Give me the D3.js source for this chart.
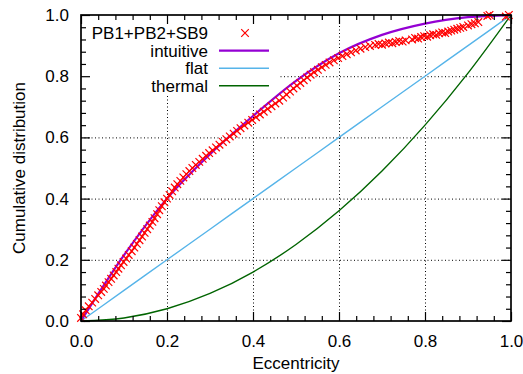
<!DOCTYPE html>
<html>
<head>
<meta charset="utf-8">
<script src="https://cdn.jsdelivr.net/npm/d3@7"></script>
<style>
  html, body { margin: 0; padding: 0; background: #fff; }
  svg text { font-family: "Liberation Sans", Arial, Helvetica, sans-serif; fill: #000; }
</style>
</head>
<body>
<div id="chart"></div>
<script>
// tick values / labels
const xTicks = [0, 0.2, 0.4, 0.6, 0.8, 1.0];
const yTicks = [0, 0.2, 0.4, 0.6, 0.8, 1.0];
const gridTicks = [0.2, 0.4, 0.6, 0.8];
const minorTicks = [0.04,0.08,0.12,0.16,0.24,0.28,0.32,0.36,0.44,0.48,0.52,0.56,0.64,0.68,0.72,0.76,0.84,0.88,0.92,0.96];

// model curves
const curveEcc      = [0, 0.1, 0.2, 0.3, 0.4, 0.5, 0.6, 0.7, 0.8, 0.9, 1.0];
const intuitiveCdf  = [0, 0.215, 0.40, 0.545, 0.67, 0.785, 0.875, 0.935, 0.972, 0.993, 1.0];
const flatCdf       = [0, 0.1, 0.2, 0.3, 0.4, 0.5, 0.6, 0.7, 0.8, 0.9, 1.0];
const thermalCdf    = [0, 0.01, 0.04, 0.09, 0.16, 0.25, 0.36, 0.49, 0.64, 0.81, 1.0];

// observed systems PB1+PB2+SB9 (eccentricity, cumulative fraction)
const obsEcc = [
  0.000,0.005,0.011,0.018,0.026,0.033,0.040,0.047,0.053,0.058,0.064,0.070,0.076,0.082,0.087,0.093,0.099,
  0.105,0.111,0.118,0.124,0.130,0.136,0.142,0.148,0.154,0.160,0.166,0.171,0.177,0.182,0.188,0.194,0.200,
  0.206,0.212,0.218,0.224,0.231,0.238,0.245,0.252,0.259,0.267,0.275,0.283,0.291,0.298,0.306,0.314,0.322,
  0.330,0.338,0.346,0.355,0.363,0.371,0.380,0.389,0.398,0.407,0.416,0.425,0.434,0.443,0.452,0.461,0.470,
  0.478,0.486,0.494,0.502,0.510,0.518,0.526,0.534,0.542,0.551,0.560,0.569,0.578,0.588,0.598,0.608,0.618,
  0.628,0.639,0.650,0.661,0.672,
  0.684,0.692,0.700,0.708,0.716,0.724,0.732,0.740,0.748,0.755,
  0.770,0.777,0.784,0.791,0.798,0.805,0.812,0.819,0.826,0.833,0.840,0.847,0.854,0.861,0.868,0.875,0.882,0.889,
  0.900,0.908,0.916,0.924,0.945,0.950,0.988,0.995
];
const obsCum = [
  0.010,0.022,0.035,0.048,0.060,0.072,0.084,0.095,0.105,0.116,0.127,0.138,0.149,0.160,0.171,0.182,0.193,
  0.204,0.216,0.228,0.240,0.252,0.264,0.276,0.288,0.300,0.312,0.324,0.336,0.349,0.362,0.375,0.388,0.400,
  0.412,0.424,0.436,0.447,0.458,0.469,0.480,0.490,0.500,0.510,0.520,0.530,0.540,0.549,0.558,0.567,0.576,
  0.585,0.594,0.603,0.612,0.621,0.630,0.639,0.648,0.657,0.666,0.675,0.684,0.693,0.702,0.711,0.720,0.730,
  0.740,0.750,0.760,0.769,0.778,0.787,0.796,0.805,0.813,0.821,0.829,0.837,0.845,0.852,0.859,0.866,0.872,
  0.878,0.884,0.890,0.895,0.899,
  0.902,0.905,0.903,0.907,0.910,0.908,0.912,0.915,0.913,0.917,
  0.920,0.925,0.923,0.928,0.931,0.929,0.934,0.937,0.935,0.940,0.943,0.941,0.946,0.949,0.952,0.955,0.958,0.961,
  0.966,0.970,0.973,0.977,0.997,1.000,0.995,1.000
];

const legendLabels = ["PB1+PB2+SB9", "intuitive", "flat", "thermal"];

const containerWidth = 523, containerHeight = 374;
const margin = {left: 81, right: 12, top: 15, bottom: 53};
const width = containerWidth - margin.left - margin.right,
      height = containerHeight - margin.top - margin.bottom;

const svg = d3.select("#chart").append("svg")
    .attr("width", containerWidth)
    .attr("height", containerHeight);
const g = svg.append("g")
    .attr("transform", "translate(" + margin.left + "," + margin.top + ")");

// scales
const x = d3.scaleLinear().domain([0, 1]).range([0, width]);
const y = d3.scaleLinear().domain([0, 1]).range([height, 0]);

// grid
g.append("g").attr("class", "grid")
   .attr("transform", "translate(0," + height + ")")
   .call(d3.axisBottom(x).tickValues(gridTicks).tickSize(-height).tickFormat(""));
g.append("g").attr("class", "grid")
   .call(d3.axisLeft(y).tickValues(gridTicks).tickSize(-width).tickFormat(""));
g.selectAll(".grid .domain").remove();
g.selectAll(".grid line")
   .attr("stroke", "#000").attr("stroke-width", 1).attr("stroke-dasharray", "1,2.5");

// key background hides grid behind it
g.append("rect")
   .attr("x", 0).attr("y", 0)
   .attr("width", 199).attr("height", 80)
   .attr("fill", "#fff");

// model lines
const line = d3.line()
   .x((d) => x(d[0]))
   .y((d) => y(d[1]))
   .curve(d3.curveMonotoneX);

const models = [
  {vals: thermalCdf, color: "#006400", w: 1.4},
  {vals: flatCdf, color: "#56b4e9", w: 1.4},
  {vals: intuitiveCdf, color: "#9400d3", w: 2.2}
];
models.forEach((m) => {
  g.append("path")
     .datum(curveEcc.map((e, i) => [e, m.vals[i]]))
     .attr("fill", "none")
     .attr("stroke", m.color)
     .attr("stroke-width", m.w)
     .attr("d", line);
});

// observed crosses
const cross = "M-3.8,-3.8L3.8,3.8M-3.8,3.8L3.8,-3.8";
g.selectAll(".obs")
   .data(obsEcc.map((e, i) => [e, obsCum[i]]))
   .enter().append("path")
   .attr("class", "obs")
   .attr("transform", (d) => "translate(" + x(d[0]) + "," + y(d[1]) + ")")
   .attr("d", cross)
   .attr("stroke", "#ff0000")
   .attr("stroke-width", 1.2)
   .attr("fill", "none");

// axes: major + minor ticks on all four sides, pointing inward
function styleAxis(sel) {
  sel.select(".domain").remove();
  sel.selectAll("line").attr("stroke", "#000").attr("stroke-width", 1.2);
  sel.selectAll("text").style("font-size", "17px");
}
const xb = g.append("g").attr("transform", "translate(0," + height + ")")
   .call(d3.axisBottom(x).tickValues(xTicks).tickSize(-9).tickPadding(14).tickFormat(d3.format(".1f")));
styleAxis(xb);
const xbm = g.append("g").attr("transform", "translate(0," + height + ")")
   .call(d3.axisBottom(x).tickValues(minorTicks).tickSize(-5).tickFormat(""));
styleAxis(xbm);
const xt = g.append("g").call(d3.axisTop(x).tickValues(xTicks).tickSize(-9).tickFormat(""));
styleAxis(xt);
const xtm = g.append("g").call(d3.axisTop(x).tickValues(minorTicks).tickSize(-5).tickFormat(""));
styleAxis(xtm);
const yl = g.append("g")
   .call(d3.axisLeft(y).tickValues(yTicks).tickSize(-9).tickPadding(12).tickFormat(d3.format(".1f")));
styleAxis(yl);
const ylm = g.append("g").call(d3.axisLeft(y).tickValues(minorTicks).tickSize(-5).tickFormat(""));
styleAxis(ylm);
const yr = g.append("g").attr("transform", "translate(" + width + ",0)")
   .call(d3.axisRight(y).tickValues(yTicks).tickSize(-9).tickFormat(""));
styleAxis(yr);
const yrm = g.append("g").attr("transform", "translate(" + width + ",0)")
   .call(d3.axisRight(y).tickValues(minorTicks).tickSize(-5).tickFormat(""));
styleAxis(yrm);
xb.selectAll("text").attr("dy", "0.71em");

// border
g.append("rect")
   .attr("width", width).attr("height", height)
   .attr("fill", "none").attr("stroke", "#000").attr("stroke-width", 1.7);

// axis titles
svg.append("text")
   .attr("x", margin.left + width / 2).attr("y", 369)
   .attr("text-anchor", "middle")
   .style("font-size", "17px")
   .text("Eccentricity");
svg.append("text")
   .attr("transform", "translate(25," + (margin.top + height / 2) + ") rotate(-90)")
   .attr("text-anchor", "middle")
   .style("font-size", "17px")
   .text("Cumulative distribution");

// key
const key = g.append("g").attr("transform", "translate(0,0)");
legendLabels.forEach((lab, i) => {
  const ky = 18 + i * 17.6;
  key.append("text")
     .attr("x", 127).attr("y", ky)
     .attr("dy", "0.35em")
     .attr("text-anchor", "end")
     .style("font-size", "17px")
     .text(lab);
  if (i === 0) {
    key.append("path")
       .attr("transform", "translate(164," + ky + ")")
       .attr("d", cross)
       .attr("stroke", "#ff0000").attr("stroke-width", 1.2).attr("fill", "none");
  } else {
    const m = models[3 - i];
    key.append("line")
       .attr("x1", 138).attr("x2", 188)
       .attr("y1", ky).attr("y2", ky)
       .attr("stroke", m.color).attr("stroke-width", m.w);
  }
});
</script>
</body>
</html>
